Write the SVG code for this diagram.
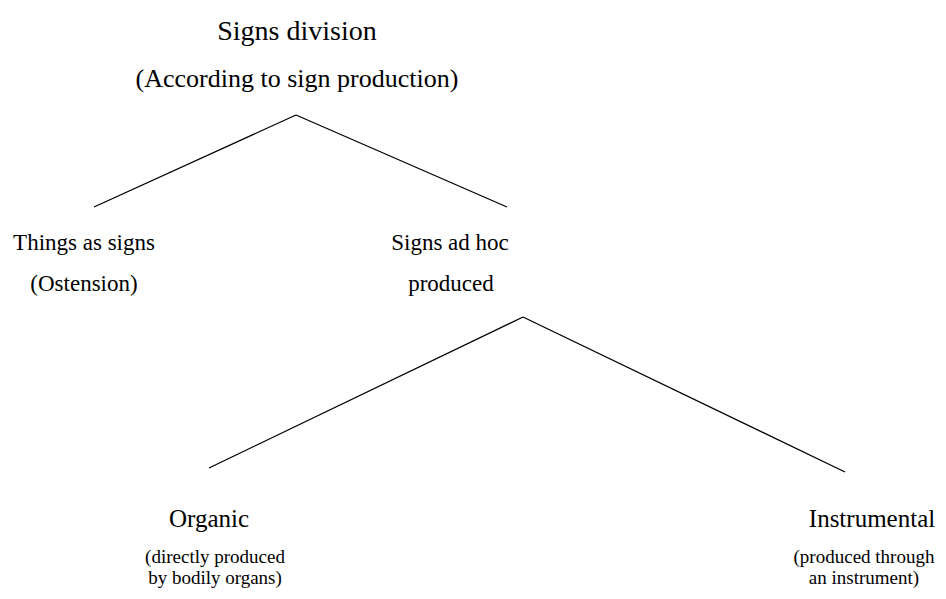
<svg xmlns="http://www.w3.org/2000/svg" width="946" height="599" viewBox="0 0 946 599">
<style>
text{font-family:"Liberation Serif","Times New Roman",serif;fill:#000;text-anchor:middle}
.t1{font-size:28px}
.t2{font-size:26px}
.t3{font-size:23px}
.t4{font-size:25px}
.t5{font-size:19px}
line{stroke:#000;stroke-width:1.3}
</style>
<rect width="946" height="599" fill="#fff"/>
<g id="connectors">
<line x1="296" y1="115" x2="94" y2="207"/>
<line x1="296" y1="115" x2="507" y2="207"/>
<line x1="523" y1="317" x2="209" y2="468"/>
<line x1="523" y1="317" x2="845" y2="472"/>
</g>
<g id="root">
<text class="t1" x="297" y="40">Signs division</text>
<text class="t2" x="297" y="87">(According to sign production)</text>
</g>
<g id="things">
<text class="t3" x="84" y="250">Things as signs</text>
<text class="t3" x="84" y="291">(Ostension)</text>
</g>
<g id="adhoc">
<text class="t3" x="450" y="250">Signs ad hoc</text>
<text class="t3" x="451" y="291">produced</text>
</g>
<g id="organic">
<text class="t4" x="209" y="527">Organic</text>
<text class="t5" x="215" y="563">(directly produced</text>
<text class="t5" x="215" y="584">by bodily organs)</text>
</g>
<g id="instrumental">
<text class="t4" x="872" y="527">Instrumental</text>
<text class="t5" x="864" y="563">(produced through</text>
<text class="t5" x="864" y="584">an instrument)</text>
</g>
</svg>
